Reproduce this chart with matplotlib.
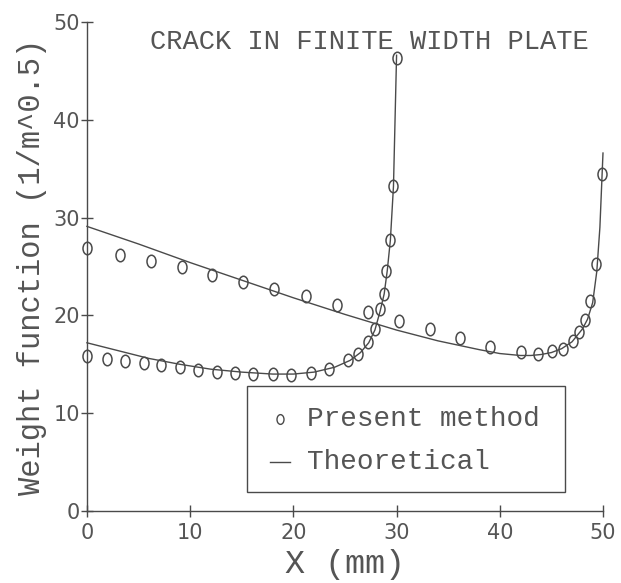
import numpy as np
import matplotlib
matplotlib.use('Agg')
import matplotlib.pyplot as plt
from matplotlib.path import Path
from matplotlib.transforms import Affine2D
from matplotlib.lines import Line2D
from matplotlib.patches import Rectangle

# "Present method" points, long crack curve (singular at x=50)
upper_mx = [0, 3.2, 6.2, 9.2, 12.1, 15.1, 18.1, 21.2, 24.2, 27.2, 30.2, 33.2,
            36.1, 39.1, 42.1, 43.7, 45.1, 46.1, 47.1, 47.7, 48.3, 48.7, 49.3, 49.9]
upper_my = [26.9, 26.2, 25.6, 24.9, 24.1, 23.4, 22.7, 22.0, 21.1, 20.3, 19.4, 18.6,
            17.7, 16.8, 16.3, 16.1, 16.4, 16.6, 17.4, 18.3, 19.5, 21.5, 25.3, 34.5]

# "Present method" points, short crack curve (singular at x=30)
lower_mx = [0, 1.9, 3.7, 5.5, 7.2, 9.0, 10.8, 12.6, 14.3, 16.1, 18.0, 19.8,
            21.7, 23.5, 25.3, 26.3, 27.2, 27.9, 28.4, 28.8, 29.0, 29.4, 29.7, 30.0]
lower_my = [15.8, 15.5, 15.3, 15.1, 14.9, 14.7, 14.4, 14.2, 14.1, 14.0, 14.0, 13.9,
            14.1, 14.5, 15.4, 16.1, 17.3, 18.6, 20.7, 22.2, 24.5, 27.7, 33.2, 46.3]

# theoretical curves
upper_lx = [0, 5, 10, 15, 20, 25, 30, 34, 38, 40, 42, 43, 44, 45, 46, 47, 48,
            48.5, 49, 49.4, 49.7, 50]
upper_ly = [29.1, 27.3, 25.4, 23.6, 21.8, 20.1, 18.5, 17.4, 16.5, 16.1, 15.9, 15.9,
            16.0, 16.2, 16.6, 17.3, 18.6, 19.6, 21.3, 24.5, 29.0, 36.6]

lower_lx = [0, 3, 6, 9, 12, 15, 18, 20, 22, 24, 25.5, 26.5, 27.3, 27.9, 28.4,
            28.8, 29.1, 29.4, 29.7, 30]
lower_ly = [17.2, 16.4, 15.6, 15.0, 14.5, 14.2, 14.0, 14.0, 14.2, 14.7, 15.4, 16.2,
            17.2, 18.5, 20.4, 22.2, 24.6, 27.7, 33.2, 46.6]

xticks = [0, 10, 20, 30, 40, 50]
yticks = [0, 10, 20, 30, 40, 50]

ink = '#4a4a4a'
txt = '#555555'
mono = 'Liberation Mono'

# tall rounded marker like the plotter's "o"
oval = Path.unit_circle().transformed(Affine2D().scale(0.72, 1.0))

fig = plt.figure(figsize=(6.21, 5.83), dpi=100)
ax = fig.add_axes([0.140, 0.1235, 0.831, 0.8388])

ax.plot(upper_lx, upper_ly, color=ink, lw=1.0, clip_on=False)
ax.plot(lower_lx, lower_ly, color=ink, lw=1.0, clip_on=False)
for mx, my in [(upper_mx, upper_my), (lower_mx, lower_my)]:
    ax.plot(mx, my, ls='none', marker=oval, ms=9, mfc='none', mec=ink,
            mew=1.1, clip_on=False)

ax.set_xlim(0, 50)
ax.set_ylim(0, 50)
ax.set_xticks(xticks)
ax.set_yticks(yticks)
for s in ['top', 'right']:
    ax.spines[s].set_visible(False)
for s in ['left', 'bottom']:
    ax.spines[s].set_color(ink)
    ax.spines[s].set_linewidth(1.0)
ax.tick_params(direction='inout', length=8, width=1.0, color=ink,
               labelsize=15, labelcolor=txt)
ax.tick_params(axis='y', pad=1)
ax.tick_params(axis='x', pad=5)

ax.set_xlabel('X (mm)', fontsize=24, family=mono, color=txt, labelpad=4)
ax.set_ylabel('Weight function (1/m^0.5)', fontsize=22, family=mono, color=txt,
              labelpad=5)

ax.text(0.547, 0.959, 'CRACK IN FINITE WIDTH PLATE', transform=ax.transAxes,
        ha='center', va='center', fontsize=19.5, family=mono, color=txt)

# legend box
ax.add_patch(Rectangle((0.310, 0.039), 0.616, 0.217, transform=ax.transAxes,
                       fill=False, ec=ink, lw=1.0))
ax.add_line(Line2D([0.374], [0.188], transform=ax.transAxes, marker=oval, ms=7,
                   mfc='none', mec=ink, mew=1.0, ls='none'))
ax.add_line(Line2D([0.355, 0.393], [0.100, 0.100], transform=ax.transAxes,
                   color=ink, lw=1.0))
ax.text(0.426, 0.188, 'Present method', transform=ax.transAxes, ha='left',
        va='center', fontsize=20, family=mono, color=txt)
ax.text(0.426, 0.100, 'Theoretical', transform=ax.transAxes, ha='left',
        va='center', fontsize=20, family=mono, color=txt)

fig.savefig('out.png', dpi=100)
